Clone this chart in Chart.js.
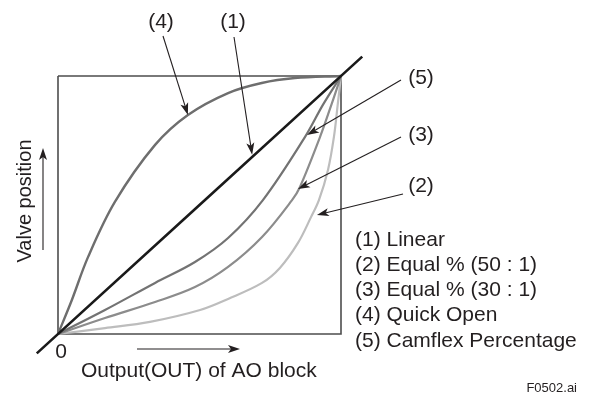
<!DOCTYPE html>
<html>
<head>
<meta charset="utf-8">
<script src="https://cdn.jsdelivr.net/npm/chart.js@4.4.1/dist/chart.umd.min.js"></script>
<style>
  body { margin: 0; background: #fff; }
  #valve { display: block; }
</style>
</head>
<body>
<canvas id="valve" width="589" height="399"></canvas>
<script>
// Kennlinien (x = Ausgang OUT, y = Ventilstellung, beide 0..1)
const linearX = [-0.075, 1.075];
const linearY = [-0.075, 1.075];
const equal50X = [0, 0.166, 0.325, 0.502, 0.601, 0.721, 0.784, 0.848, 0.894, 0.922, 0.954, 0.975, 0.989, 1];
const equal50Y = [0, 0.023, 0.047, 0.093, 0.136, 0.198, 0.256, 0.353, 0.453, 0.519, 0.636, 0.764, 0.895, 1];
const equal30X = [0, 0.166, 0.343, 0.484, 0.601, 0.721, 0.827, 0.855, 0.926, 0.968, 1];
const equal30Y = [0, 0.062, 0.124, 0.182, 0.26, 0.376, 0.519, 0.57, 0.764, 0.895, 1];
const quickX = [0, 0.049, 0.106, 0.201, 0.343, 0.459, 0.601, 0.72, 0.837, 1];
const quickY = [0, 0.132, 0.298, 0.512, 0.733, 0.849, 0.934, 0.973, 0.992, 1];
const camflexX = [0, 0.166, 0.343, 0.484, 0.601, 0.724, 0.873, 0.936, 1];
const camflexY = [0, 0.093, 0.198, 0.279, 0.372, 0.519, 0.764, 0.888, 1];
const boxX = [0, 0, 1, 1, 0];
const boxY = [1, 0, 0, 1, 1];

const legendLines = ['(1) Linear', '(2) Equal % (50 : 1)', '(3) Equal % (30 : 1)', '(4) Quick Open', '(5) Camflex Percentage'];

function pts(xs, ys) {
    return xs.map((x, i) => ({ x: x, y: ys[i] }));
}

const FONT = "'Liberation Sans', Arial, sans-serif";

function arrow(ctx, x1, y1, x2, y2) {
    const a = Math.atan2(y2 - y1, x2 - x1);
    const len = 12, hw = 4;
    ctx.beginPath();
    ctx.moveTo(x1, y1);
    ctx.lineTo(x2 - Math.cos(a) * len * 0.7, y2 - Math.sin(a) * len * 0.7);
    ctx.stroke();
    ctx.beginPath();
    ctx.moveTo(x2, y2);
    ctx.lineTo(x2 - Math.cos(a) * len - Math.sin(a) * hw, y2 - Math.sin(a) * len + Math.cos(a) * hw);
    ctx.lineTo(x2 - Math.cos(a) * len * 0.75, y2 - Math.sin(a) * len * 0.75);
    ctx.lineTo(x2 - Math.cos(a) * len + Math.sin(a) * hw, y2 - Math.sin(a) * len - Math.cos(a) * hw);
    ctx.closePath();
    ctx.fill();
}

// Beschriftungen und Pfeile
const annotations = {
    id: 'annotations',
    afterDraw(chart) {
        const { ctx, scales: { x, y } } = chart;
        ctx.save();
        ctx.fillStyle = '#231f20';
        ctx.strokeStyle = '#231f20';
        ctx.lineWidth = 1.1;

        // Nummern oben/rechts
        ctx.font = '21px ' + FONT;
        ctx.textAlign = 'center';
        ctx.textBaseline = 'middle';
        ctx.fillText('(4)', 161, 22);
        ctx.fillText('(1)', 233, 22);
        ctx.fillText('(5)', 421, 78);
        ctx.fillText('(3)', 421, 135);
        ctx.fillText('(2)', 421, 186);

        arrow(ctx, 163, 36, x.getPixelForValue(0.459), y.getPixelForValue(0.849));
        arrow(ctx, 234, 37, x.getPixelForValue(0.686), y.getPixelForValue(0.695));
        arrow(ctx, 401, 80, x.getPixelForValue(0.88), y.getPixelForValue(0.771));
        arrow(ctx, 401, 137, x.getPixelForValue(0.848), y.getPixelForValue(0.562));
        arrow(ctx, 403, 194, x.getPixelForValue(0.915), y.getPixelForValue(0.461));

        // Legende
        ctx.textAlign = 'left';
        legendLines.forEach((t, i) => ctx.fillText(t, 355, 240 + i * 25.2));

        // Achsen
        ctx.textAlign = 'center';
        ctx.fillText('0', 61, 352);
        ctx.textAlign = 'left';
        ctx.fillText('Output(OUT) of AO block', 81, 371);
        arrow(ctx, 137, 349, 240, 349);
        arrow(ctx, 43, 250, 43, 148);

        ctx.save();
        ctx.translate(25, 201);
        ctx.rotate(-Math.PI / 2);
        ctx.textAlign = 'center';
        ctx.font = '20px ' + FONT;
        ctx.fillText('Valve position', 0, 0);
        ctx.restore();

        ctx.font = '13px ' + FONT;
        ctx.textAlign = 'right';
        ctx.fillText('F0502.ai', 577, 388);
        ctx.restore();
    }
};

const curve = (label, xs, ys, color, width) => ({
    label: label,
    data: pts(xs, ys),
    borderColor: color,
    borderWidth: width,
    pointRadius: 0,
    fill: false,
    tension: 0.35
});

new Chart(document.getElementById('valve'), {
    type: 'line',
    data: {
        datasets: [
            curve('(1) Linear', linearX, linearY, '#1a1a1a', 2.6),
            curve('(4) Quick Open', quickX, quickY, '#6e6e6e', 2.4),
            curve('(5) Camflex Percentage', camflexX, camflexY, '#737373', 2.2),
            curve('(3) Equal % (30 : 1)', equal30X, equal30Y, '#8c8c8c', 2.2),
            curve('(2) Equal % (50 : 1)', equal50X, equal50Y, '#bdbdbd', 2.2),
            {
                label: 'box',
                data: pts(boxX, boxY),
                borderColor: '#4d4d4d',
                borderWidth: 1.6,
                pointRadius: 0,
                tension: 0
            }
        ]
    },
    options: {
        responsive: false,
        animation: false,
        layout: {
            padding: { left: 29.7, top: 50.2, right: 219.7, bottom: 39.2 }
        },
        plugins: {
            legend: { display: false },
            tooltip: { enabled: false }
        },
        scales: {
            x: { type: 'linear', min: -0.1, max: 1.1, display: false },
            y: { type: 'linear', min: -0.1, max: 1.1, display: false }
        }
    },
    plugins: [annotations]
});
</script>
</body>
</html>
